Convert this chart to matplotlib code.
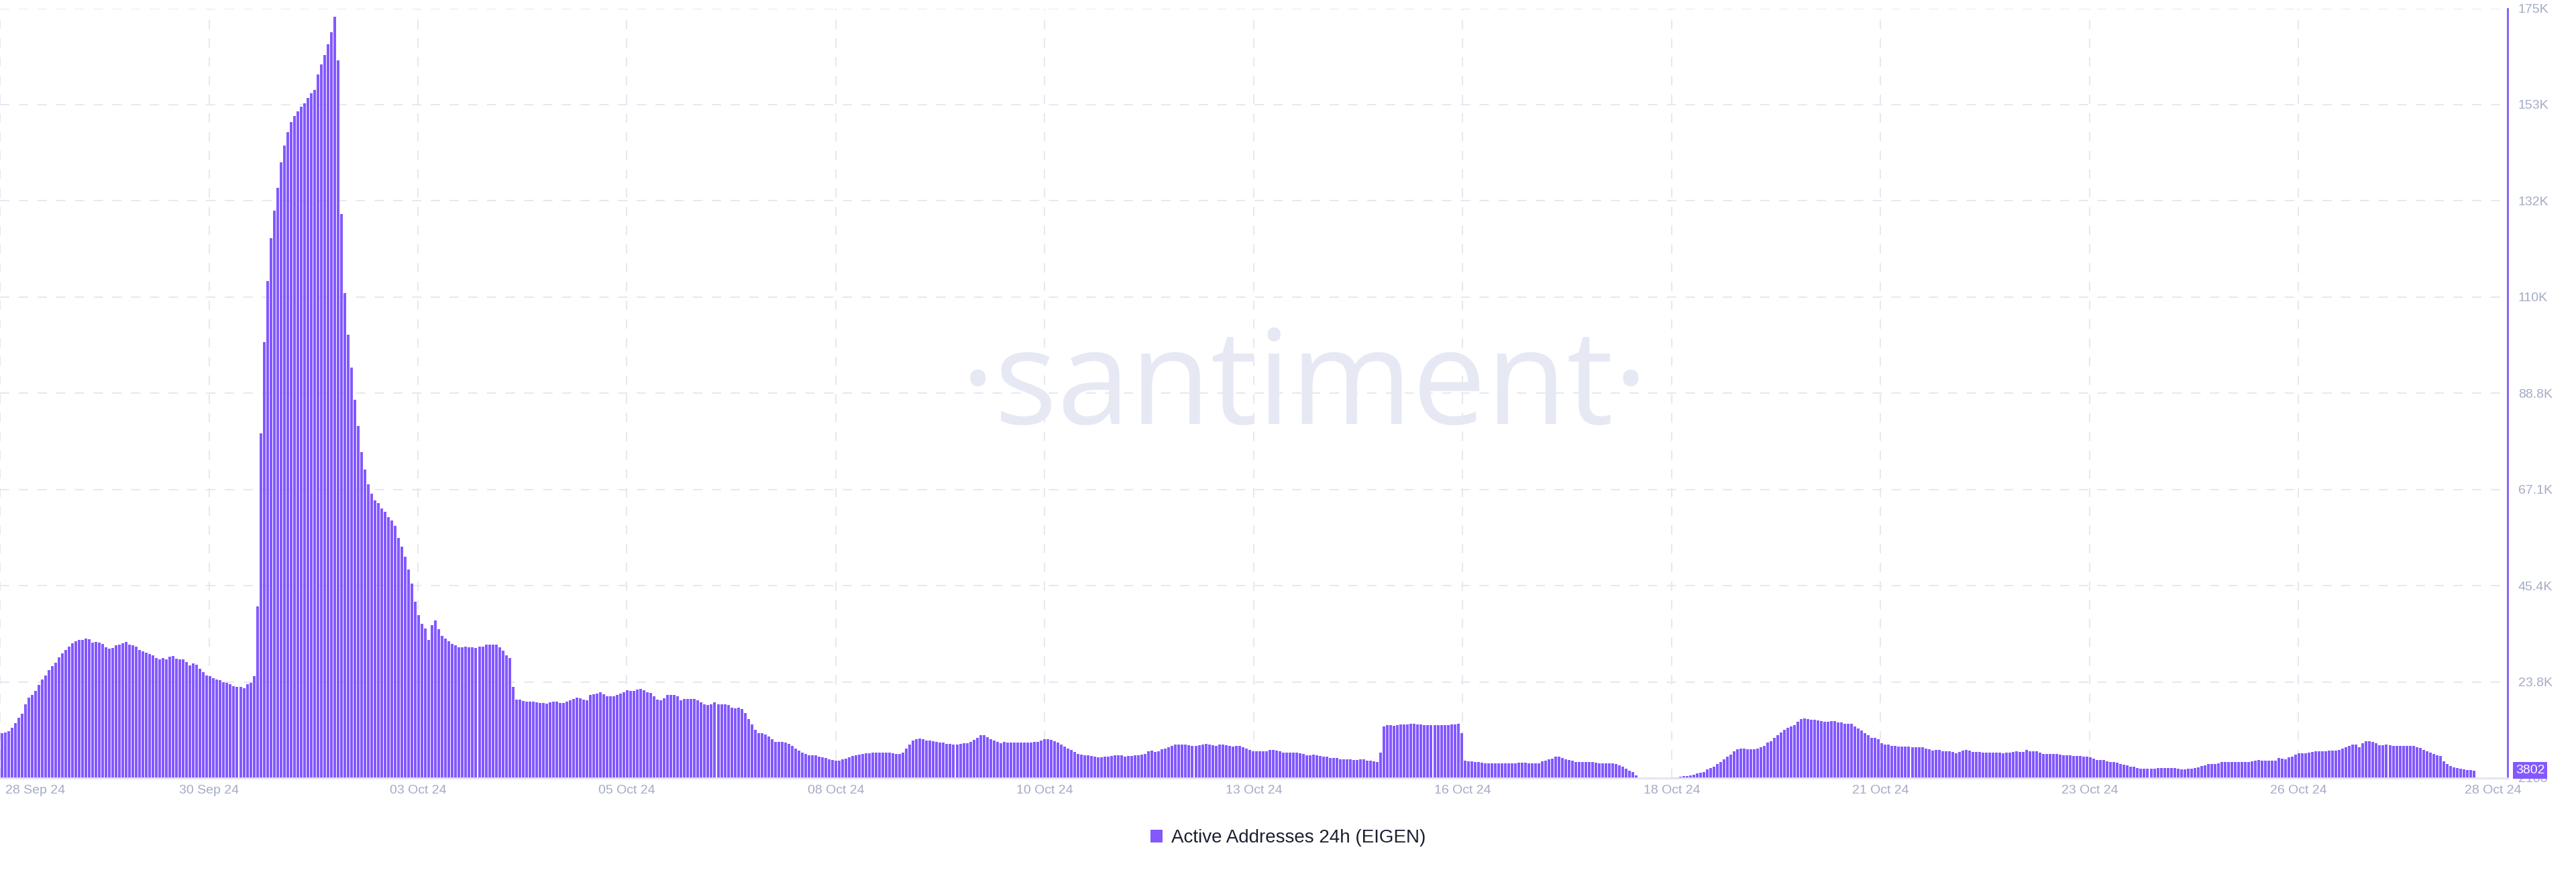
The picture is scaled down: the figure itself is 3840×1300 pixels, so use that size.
import numpy as np
import matplotlib
matplotlib.use("Agg")
import matplotlib.pyplot as plt
from matplotlib.patches import Patch
from matplotlib.transforms import ScaledTranslation, blended_transform_factory

# ---------------- data (hourly Active Addresses 24h, EIGEN) ----------------
seg_sep28 = [12300, 12400, 12700, 13500, 14500, 15700, 16600, 18700, 20300, 20800,
             21800, 23100, 24300, 25200, 26400, 27300, 28100, 29300, 30200, 30900,
             31800, 32500, 33000, 33200, 33200, 33600, 33400, 32700, 32800, 32600,
             32300, 31500, 31300, 31400, 32000, 32200, 32500, 32800, 32200, 32100,
             31800, 30900, 30700, 30300, 30000, 29800, 29100, 28900, 29100, 28800,
             29400, 29600, 29000, 28900, 28900, 28200, 27500, 27900, 27600, 26800]

seg_sep30 = [26000, 25200, 25100, 24600, 24300, 24100, 23700, 23600, 23200, 22800,
             22600, 22600, 22400, 23200, 23600, 25100, 40800, 79800, 100400, 114100,
             123700, 130000, 135100, 140800, 144700, 147700, 149900, 151300, 152400, 153400,
             154200, 155300, 156400, 157200, 160600, 162900, 165000, 167500, 170200, 173600,
             163800, 129200, 111400, 102000, 94600, 87400, 81500, 75600, 71600, 68300,
             66200, 64600, 64000, 62800, 62100, 60900, 60100, 59000, 56200, 54200,
             52000, 49100, 46000, 41900, 38800, 36800, 35800, 33300, 36600, 37600,
             35600, 34200, 33500, 32900, 32400, 32100, 31600, 31600, 31700, 31600,
             31600, 31400, 31700, 31700, 32200, 32200, 32200, 32200, 31600, 30800,
             29800, 29200, 22600, 19800, 19800, 19500, 19300, 19300, 19300, 19200]

seg_oct03 = [19100, 19000, 18900, 19200, 19300, 19400, 19100, 19100, 19300, 19600,
             20000, 20300, 20100, 19800, 19700, 20800, 21000, 21100, 21500, 21000,
             20500, 20600, 20600, 20800, 21100, 21500, 21900, 21700, 21700, 22000,
             22200, 21900, 21400, 21300, 20500, 19800, 19700, 20100, 20900, 20800,
             20800, 20600, 19700, 20000, 20000, 20000, 20000, 19700, 19200, 18800,
             18500, 18800, 19200, 18800, 18700, 18700, 18600, 18000, 17800, 18000,
             17600, 16700, 15400, 14200, 13000, 12300, 12300, 11900, 11500, 10800,
             10300, 10200, 10200, 10100, 9800, 9300, 8800, 8300, 7900, 7500,
             7200, 7200, 7200, 7000, 6800, 6700, 6400, 6200, 6000, 6100,
             6300, 6500, 6800, 7100, 7300, 7400, 7600]

seg_oct06 = [7650, 7700, 7900, 7900, 7900, 7900, 7900, 7900, 7750, 7600, 7600, 7900,
             8800, 9700, 10500, 10800, 11000, 10800, 10600, 10500, 10400, 10300,
             10100, 10100, 9800, 9800, 9700, 9700, 9800, 9900, 10000, 10300,
             10700, 11200, 11700, 11800, 11300, 10900, 10500, 10300, 10000, 10200,
             10100, 10100, 10100, 10100, 10100, 10100, 10100, 10100,
             10200, 10300, 10600, 10900, 10900, 10700, 10400, 10100, 9600, 9200,
             8800, 8400, 8000, 7600, 7400, 7300, 7300, 7100, 6900, 6800,
             6800, 6900, 7000, 7100, 7200, 7300, 7200, 6900, 7100, 7100,
             7200, 7200, 7400, 7600, 8100, 8300, 8000, 8200, 8600, 8800,
             9000, 9400, 9600, 9700, 9700, 9700, 9500]

seg_oct10 = [9300, 9400, 9500, 9600, 9800, 9600, 9500, 9400, 9700, 9600,
             9500, 9400, 9200, 9400, 9300, 9100, 8700, 8500, 8200, 8100,
             8200, 8200, 8200, 8400, 8500, 8300, 8100, 7900, 7800, 7800,
             7900, 7900, 7700, 7600, 7300, 7300, 7400, 7200, 7100, 6900,
             6900, 6700, 6600, 6600, 6400, 6400, 6400, 6300, 6200, 6200,
             6300, 6300, 6100, 6000, 5900, 5800, 7800, 13800, 14100, 14000,
             13900, 14100, 14200, 14200, 14200, 14300, 14300, 14200, 14200, 14100,
             14100, 14100, 14000, 14000, 14000, 14000, 14100, 14200, 14200, 14300,
             12200, 6100, 5900, 5900, 5800, 5700, 5600, 5500, 5400, 5500,
             5500, 5500, 5500, 5500, 5500, 5500, 5500, 5600]

seg_oct16 = [5600, 5600, 5500, 5400, 5500, 5400, 5900, 6100, 6400, 6500,
             6900, 6900, 6600, 6300, 6200, 6100, 5800, 5800, 5700, 5700,
             5700, 5700, 5600, 5500, 5500, 5500, 5500, 5400, 5200, 5000,
             4700, 4200, 3700, 3400, 2700,
             2100, 2100, 2100, 2100, 2100, 2100, 2100, 2100, 2100, 2100,
             2300, 2300, 2400, 2500, 2500, 2700, 2900, 3100, 3300, 3500,
             4000, 4400, 4700, 5300, 5800, 6300, 6900, 7400, 8200, 8600,
             8700, 8700, 8600, 8600, 8600, 8700, 9000, 9400, 10100, 10400,
             11200, 11800, 12400, 13000, 13500, 13800, 14100, 14800, 15400, 15500,
             15400, 15300, 15300, 15100, 14900, 14800, 14800, 15000, 15000, 14700,
             14600, 14300, 14300]

seg_oct20 = [14300, 13800, 13300, 12900, 12300, 11800, 11200, 11100, 10800, 10000,
             9700, 9600, 9400, 9300, 9200, 9200, 9200, 9200, 9100, 9100,
             9000, 9000, 8800, 8600, 8300, 8400, 8400, 8200, 8100, 8100,
             8000, 7700, 8000, 8300, 8400, 8300, 8000, 8000, 8000, 7800,
             7800, 7800, 7800, 7800, 7800, 7700, 7800, 7800, 8000, 8100,
             8000, 8000, 8400, 8200, 8200, 8200, 7900, 7600, 7600, 7600,
             7600, 7600, 7400, 7300, 7200, 7200, 7100, 7100, 7100, 7000,
             6900, 6800, 6500, 6200, 6200, 6200, 5900, 5800, 5700, 5600,
             5300, 5100, 4900, 4700, 4600, 4400, 4200, 4200, 4200, 4200,
             4200, 4300, 4300, 4300, 4400, 4400, 4300, 4200]

seg_oct24 = [4100, 4100, 4200, 4200, 4400, 4500, 4800, 5000, 5200, 5200,
             5300, 5400, 5700, 5700, 5700, 5700, 5700, 5700, 5700, 5700,
             5700, 5900, 6100, 6200, 6100, 6000, 6000, 6000, 6000, 6700,
             6500, 6400, 6800, 7000, 7400, 7700, 7700, 7700, 7900, 8000,
             8100, 8100, 8100, 8200, 8300, 8300, 8300, 8400, 8800, 9100,
             9300, 9600, 9600, 9000, 10000, 10400, 10400, 10300, 9900, 9500,
             9500, 9600, 9500, 9400, 9300, 9400, 9400, 9400, 9300, 9300,
             9100, 8900, 8500, 8200, 7800, 7500, 7200, 7100, 5900, 5300,
             4800, 4500, 4300, 4200, 4100, 3950, 3850, 3802]

active_addresses = np.array(seg_sep28 + seg_sep30 + seg_oct03 + seg_oct06 +
                            seg_oct10 + seg_oct16 + seg_oct20 + seg_oct24)

x_tick_labels = ['28 Sep 24', '30 Sep 24', '03 Oct 24', '05 Oct 24', '08 Oct 24',
                 '10 Oct 24', '13 Oct 24', '16 Oct 24', '18 Oct 24', '21 Oct 24',
                 '23 Oct 24', '26 Oct 24', '28 Oct 24']
y_ticks = [2100, 23780, 45460, 67140, 88820, 110500, 132180, 153860, 175540]
y_tick_labels = ['2100', '23.8K', '45.4K', '67.1K', '88.8K', '110K', '132K', '153K', '175K']
last_value_label = '3802'
legend_label = 'Active Addresses 24h (EIGEN)'
watermark = '\u00b7santiment\u00b7'

# ---------------- style ----------------
PURPLE = '#8358ff'
GRID = '#e6e8f2'
TICK = '#a3abc6'
plt.rcParams['font.family'] = ['Liberation Sans', 'DejaVu Sans']

W, H = 3840, 1300
fig = plt.figure(figsize=(W / 100, H / 100), dpi=100)
ax_left, ax_right, ax_top, ax_bottom = 0, 3738, 12.5, 1160
ax = fig.add_axes([ax_left / W, 1 - ax_bottom / H, (ax_right - ax_left) / W, (ax_bottom - ax_top) / H])

n = len(active_addresses)
xs = np.arange(n)
ax.bar(xs, active_addresses, width=0.8, color=PURPLE, linewidth=0, antialiased=False, zorder=2)

xmax = n - 0.5 + 9.5
ax.set_xlim(-0.5, xmax)
ax.set_ylim(y_ticks[0], y_ticks[-1])

ax.set_xticks(np.linspace(-0.5, xmax, len(x_tick_labels)))
ax.set_xticklabels(x_tick_labels)
ax.set_yticks(y_ticks)
ax.set_yticklabels(y_tick_labels)
ax.yaxis.tick_right()
ax.tick_params(axis='y', length=0, pad=11.5, labelsize=14, labelcolor=TICK)
ax.tick_params(axis='x', length=0, pad=7, labelsize=14, labelcolor=TICK)

ax.grid(True, color=GRID, linewidth=1.5, linestyle=(0, (6.7, 6.7)))
ax.set_axisbelow(True)

for s in ['left', 'top']:
    ax.spines[s].set_visible(False)
ax.spines['right'].set_color(PURPLE)
ax.spines['right'].set_linewidth(2.0)
ax.spines['bottom'].set_color('#e3e5f0')
ax.spines['bottom'].set_linewidth(2.0)

# first / last x labels kept inside the frame
xl = ax.get_xticklabels()
xl[0].set_ha('left')
xl[0].set_transform(xl[0].get_transform() + ScaledTranslation(8 / 100, 0, fig.dpi_scale_trans))
xl[-1].set_transform(xl[-1].get_transform() + ScaledTranslation(-22 / 100, 0, fig.dpi_scale_trans))

# last value badge on the right axis
trans = blended_transform_factory(ax.transAxes, ax.transData)
ax.text(1.0, active_addresses[-1], last_value_label,
        transform=trans + ScaledTranslation(12 / 100, 0, fig.dpi_scale_trans),
        ha='left', va='center', fontsize=14, color='white', zorder=10, clip_on=False,
        bbox=dict(boxstyle='square,pad=0.2', facecolor=PURPLE, edgecolor='none'))

# watermark
ax.text(0.5202, 0.4604, watermark, transform=ax.transAxes, ha='center', va='baseline',
        fontsize=141, color='#e6e9f3', family=['Open Sans', 'DejaVu Sans'],
        fontweight='normal', zorder=0.4)

# legend
fig.legend(handles=[Patch(facecolor=PURPLE, edgecolor='none', label=legend_label)],
           loc='center', bbox_to_anchor=(0.5, 1 - 1249 / H), frameon=False, fontsize=20,
           handlelength=0.65, handleheight=0.65, handletextpad=0.45, labelcolor='#1c1f2f')

fig.savefig('out.png', dpi=100, facecolor='white')
